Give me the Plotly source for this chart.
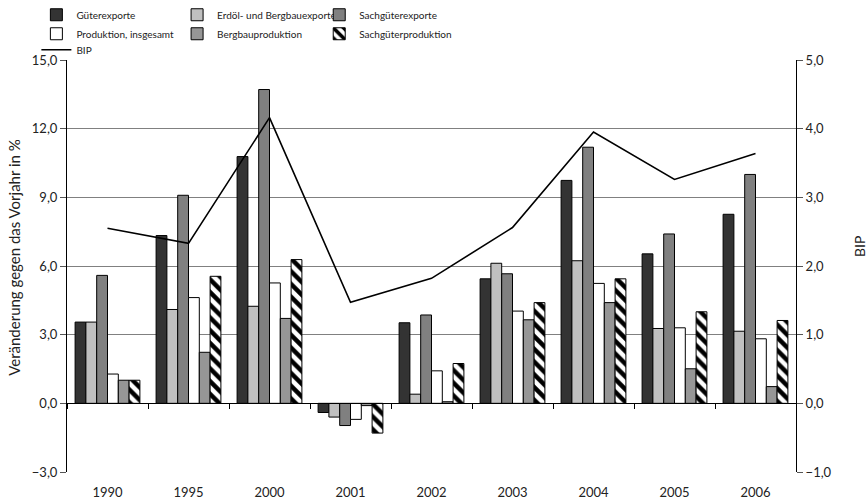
import plotly.graph_objects as go

years = ["1990", "1995", "2000", "2001", "2002", "2003", "2004", "2005", "2006"]
gueterexporte = [3.55, 7.33, 10.78, -0.4, 3.52, 5.44, 9.74, 6.53, 8.26]
erdoel_bergbauexporte = [3.55, 4.1, 4.24, -0.6, 0.4, 6.12, 6.23, 3.27, 3.15]
sachgueterexporte = [5.59, 9.09, 13.71, -0.97, 3.86, 5.66, 11.19, 7.4, 10.0]
produktion_insgesamt = [1.28, 4.62, 5.26, -0.7, 1.42, 4.03, 5.24, 3.3, 2.82]
bergbauproduktion = [1.01, 2.23, 3.71, -0.1, 0.07, 3.65, 4.4, 1.51, 0.73]
sachgueterproduktion = [1.01, 5.55, 6.28, -1.3, 1.74, 4.4, 5.44, 4.0, 3.62]
bip = [2.55, 2.33, 4.16, 1.47, 1.82, 2.56, 3.95, 3.26, 3.64]

left_ticks = [-3, 0, 3, 6, 9, 12, 15]
left_grid = [-3, 3, 6, 9, 12]
right_ticks = [-1, 0, 1, 2, 3, 4, 5]

left_title = "Veränderung gegen das Vorjahr in %"
right_title = "BIP"

font_family = "Lato, DejaVu Sans, sans-serif"
edge = dict(color="black", width=1)

fig = go.Figure()
fig.add_trace(go.Bar(name="Güterexporte", x=years, y=gueterexporte,
                     marker=dict(color="#333333", line=edge), legend="legend"))
fig.add_trace(go.Bar(name="Erdöl- und Bergbauexporte", x=years, y=erdoel_bergbauexporte,
                     marker=dict(color="#c0c0c0", line=edge), legend="legend2"))
fig.add_trace(go.Bar(name="Sachgüterexporte", x=years, y=sachgueterexporte,
                     marker=dict(color="#808080", line=edge), legend="legend3"))
fig.add_trace(go.Bar(name="Produktion, insgesamt", x=years, y=produktion_insgesamt,
                     marker=dict(color="#ffffff", line=edge), legend="legend"))
fig.add_trace(go.Bar(name="Bergbauproduktion", x=years, y=bergbauproduktion,
                     marker=dict(color="#969696", line=edge), legend="legend2"))
fig.add_trace(go.Bar(name="Sachgüterproduktion", x=years, y=sachgueterproduktion,
                     marker=dict(color="#ffffff", line=edge,
                                 pattern=dict(shape="\\", fgcolor="black", bgcolor="white",
                                              size=9, solidity=0.5, fillmode="replace")),
                     legend="legend3"))
fig.add_trace(go.Scatter(name="BIP", x=years, y=bip, mode="lines",
                         line=dict(color="black", width=1.6),
                         xaxis="x2", yaxis="y2", legend="legend4"))

legend_common = dict(orientation="v", yanchor="top", y=1.145, xanchor="left",
                     bgcolor="rgba(0,0,0,0)", font=dict(size=10, color="#222222"),
                     traceorder="normal", tracegroupgap=0, itemwidth=30)

fig.update_layout(
    width=867, height=502,
    margin=dict(l=67, r=71, t=60, b=30, autoexpand=False),
    paper_bgcolor="white", plot_bgcolor="white",
    font=dict(family=font_family, size=13, color="#222222"),
    separators=",.",
    barmode="group", bargap=0.2, bargroupgap=0,
    legend=dict(legend_common, x=-0.042),
    legend2=dict(legend_common, x=0.151),
    legend3=dict(legend_common, x=0.346),
    legend4=dict(legend_common, x=-0.042, y=1.06),
    xaxis=dict(type="category", categoryarray=years, showline=False, showgrid=False,
               ticks="", ticklabelstandoff=11, tickfont=dict(size=13),
               range=[-0.5, 8.5], automargin=False),
    xaxis2=dict(type="category", categoryarray=years, overlaying="x", anchor="free",
                position=1/6, showline=True, linecolor="black", linewidth=1,
                ticks="outside", tickson="boundaries", ticklen=5, tickcolor="black",
                showticklabels=False, showgrid=False, range=[-0.5, 8.5]),
    yaxis=dict(range=[-3, 15], tickvals=left_ticks, tickformat=".1f",
               tickfont=dict(size=13),
               showline=True, linecolor="black", linewidth=1,
               ticks="outside", ticklen=6, tickcolor="#555555",
               showgrid=False,
               minor=dict(tickvals=left_grid, showgrid=True, gridcolor="#808080",
                          gridwidth=1, ticks=""),
               zeroline=True, zerolinecolor="black", zerolinewidth=1,
               automargin=False),
    yaxis2=dict(range=[-1, 5], tickvals=right_ticks, tickformat=".1f",
                tickfont=dict(size=13),
                overlaying="y", side="right", anchor="x",
                showline=True, linecolor="black", linewidth=1,
                ticks="outside", ticklen=6, tickcolor="#555555",
                showgrid=False, zeroline=False, automargin=False),
    annotations=[
        dict(text=left_title, xref="paper", yref="paper", x=-0.0727, y=0.52,
             xanchor="center", yanchor="middle", textangle=-90, showarrow=False,
             font=dict(size=15, color="#222222")),
        dict(text=right_title, xref="paper", yref="paper", x=1.087, y=0.547,
             xanchor="center", yanchor="middle", textangle=-90, showarrow=False,
             font=dict(size=14, color="#222222")),
    ],
    showlegend=True,
)

fig.write_html("out.html")
